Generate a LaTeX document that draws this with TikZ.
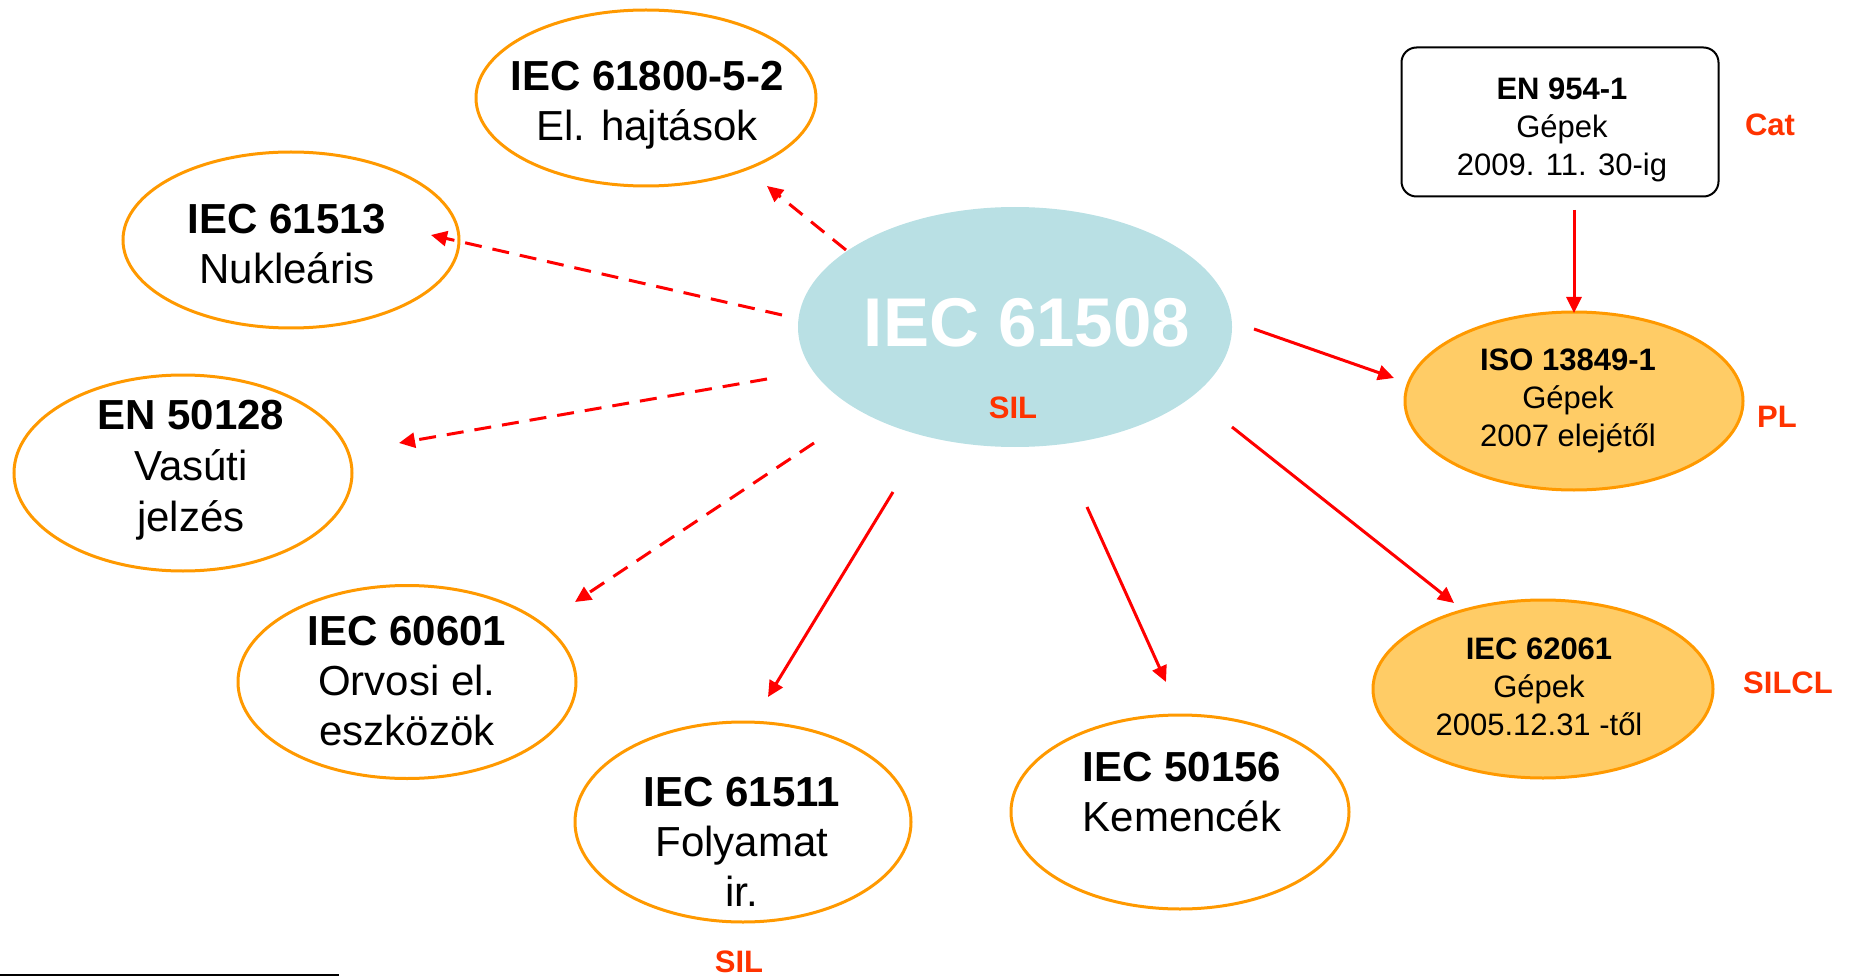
\documentclass[tikz,border=0pt]{standalone}
\usepackage{fontspec}
\setmainfont{Liberation Sans}
\usetikzlibrary{arrows.meta,shapes.geometric}
\definecolor{stdorange}{HTML}{FF9900}
\definecolor{stdfill}{HTML}{FFCC66}
\definecolor{corefill}{HTML}{B9E0E4}
\definecolor{tagred}{HTML}{FF3300}
\definecolor{linkred}{HTML}{FF0000}

\begin{document}
\begin{tikzpicture}[x=1pt,y=-1pt,
  oval/.style={ellipse, draw=stdorange, line width=3pt, inner sep=0pt},
  ovalfill/.style={oval, fill=stdfill},
  bigtxt/.style={align=center, inner sep=0pt, font=\fontsize{42}{50}\selectfont},
  smalltxt/.style={align=center, inner sep=0pt, font=\fontsize{31}{38}\selectfont},
  tag/.style={text=tagred, inner sep=0pt, font=\fontsize{31}{38}\selectfont\bfseries},
  link/.style={draw=linkred, line width=3pt, -{Triangle[length=16pt,width=15pt]}},
  weak/.style={link, dash pattern=on 17pt off 11pt},
]
\useasboundingbox (0,0) rectangle (1850,976);

% central standard
\node[ellipse, fill=corefill, minimum width=434pt, minimum height=240pt, inner sep=0pt] (core) at (1015,327) {};
\node[text=white, inner sep=0pt, font=\fontsize{69}{78}\selectfont\bfseries] (coretxt) at (1027,323) {IEC 61508};
\node[tag] (coresil) at (1013,408) {SIL};

% sector standards
\node[oval, minimum width=340pt, minimum height=176pt] (n61800) at (646,98) {};
\node[bigtxt] (t61800) at (647,105) {\bfseries IEC 61800-5-2\\El. hajtások};

\node[oval, minimum width=336pt, minimum height=176pt] (n61513) at (291,240) {};
\node[bigtxt] (t61513) at (287,244) {\bfseries IEC 61513\\Nukleáris};

\node[oval, minimum width=338pt, minimum height=196pt] (n50128) at (183,473) {};
\node[bigtxt, font=\fontsize{42}{51}\selectfont] (t50128) at (191,470) {\bfseries EN 50128\\Vasúti\\jelzés};

\node[oval, minimum width=338pt, minimum height=193pt] (n60601) at (407,682) {};
\node[bigtxt] (t60601) at (407,681) {\bfseries IEC 60601\\Orvosi el.\\eszközök};

\node[oval, minimum width=336pt, minimum height=200pt] (n61511) at (743,822) {};
\node[bigtxt] (t61511) at (742,842) {\bfseries IEC 61511\\Folyamat\\ir.};
\node[tag] (sil61511) at (739,962) {SIL};

\node[oval, minimum width=338pt, minimum height=194pt] (n50156) at (1180,812) {};
\node[bigtxt] (t50156) at (1182,792) {\bfseries IEC 50156\\Kemencék};

% machinery standards
\node[draw=black, line width=2pt, rounded corners=15pt, minimum width=317pt, minimum height=149pt] (en954) at (1560,122) {};
\node[smalltxt] (t954) at (1562,130) {\bfseries EN 954-1\\Gépek\\2009. 11. 30-ig};
\node[tag] (cat) at (1770,125) {Cat};

\node[ovalfill, minimum width=338pt, minimum height=178pt] (n13849) at (1574,401) {};
\node[smalltxt] (t13849) at (1568,401) {\bfseries ISO 13849-1\\Gépek\\2007 elejétől};
\node[tag] (pl) at (1777,417) {PL};

\node[ovalfill, minimum width=340pt, minimum height=178pt] (n62061) at (1543,689) {};
\node[smalltxt] (t62061) at (1539,687) {\bfseries IEC 62061\\Gépek\\2005.12.31 -től};
\node[tag] (silcl) at (1788,683) {SILCL};

% connector end points
\coordinate (a1s) at (846,250);  \coordinate (a1e) at (767,186);
\coordinate (a2s) at (782,315);  \coordinate (a2e) at (431,235);
\coordinate (a3s) at (767,379);  \coordinate (a3e) at (399,443);
\coordinate (a4s) at (814,443);  \coordinate (a4e) at (575,602);
\coordinate (a5s) at (893,492);  \coordinate (a5e) at (768,697);
\coordinate (a6s) at (1087,507); \coordinate (a6e) at (1166,682);
\coordinate (a7s) at (1254,329); \coordinate (a7e) at (1394,378);
\coordinate (a8s) at (1232,427); \coordinate (a8e) at (1454,603);
\coordinate (a9s) at (1574,210); \coordinate (a9e) at (1574,313);

\draw[weak] (a1s) -- (a1e);
\draw[weak] (a2s) -- (a2e);
\draw[weak] (a3s) -- (a3e);
\draw[weak] (a4s) -- (a4e);
\draw[link] (a5s) -- (a5e);
\draw[link] (a6s) -- (a6e);
\draw[link] (a7s) -- (a7e);
\draw[link] (a8s) -- (a8e);
\draw[link] (a9s) -- (a9e);

% footnote rule
\coordinate (fl) at (0,975);
\coordinate (fr) at (339,975);
\draw[line width=1.5pt] (fl) -- (fr);
\end{tikzpicture}
\end{document}
